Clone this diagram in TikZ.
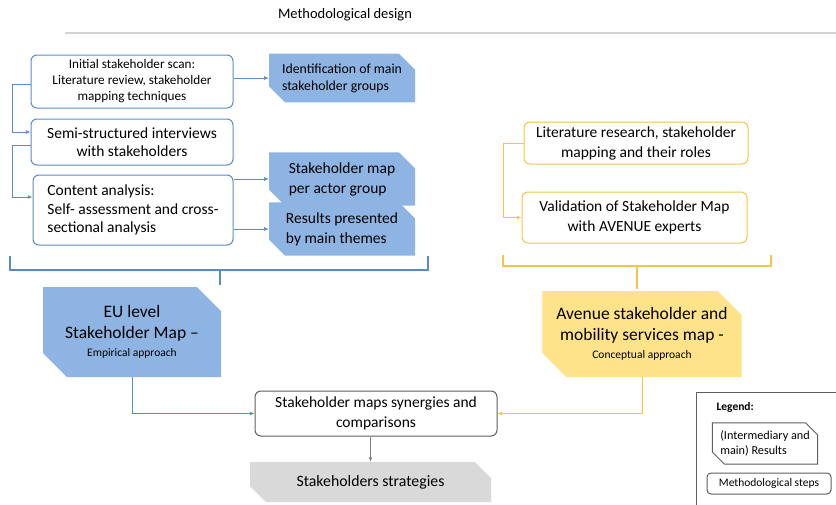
\documentclass[tikz,border=0pt]{standalone}
\usepackage{fontspec}
\setmainfont{Carlito}
\usetikzlibrary{positioning,shapes.misc,arrows.meta,calc}
\usepackage{xcolor}
\definecolor{mapblue}{RGB}{142,180,227}
\definecolor{lineblue}{RGB}{91,138,201}
\definecolor{mapyellow}{RGB}{255,227,138}
\definecolor{lineyellow}{RGB}{245,196,72}
\definecolor{stratgray}{RGB}{217,217,217}
\definecolor{framegray}{RGB}{95,95,95}

\begin{document}
\begin{tikzpicture}[x=1pt, y=-1pt,
    method/.style={rectangle, draw=lineblue, fill=white, line width=1pt,
      rounded corners=6pt, align=center, inner sep=2pt,
      font=\fontsize{15.5}{17.5}\selectfont},
    result/.style={chamfered rectangle,
      chamfered rectangle corners={north east,south west},
      chamfered rectangle xsep=8pt, chamfered rectangle ysep=8pt,
      fill=mapblue, draw=none, align=left, inner sep=2pt,
      font=\fontsize{15.5}{20}\selectfont},
    yellowstep/.style={method, draw=lineyellow},
    bigmap/.style={chamfered rectangle,
      chamfered rectangle corners={north east,south west},
      chamfered rectangle xsep=12pt, chamfered rectangle ysep=12pt,
      draw=none, align=center, inner sep=2pt,
      font=\fontsize{17.5}{21}\selectfont},
    bluearrow/.style={-{Latex[length=1.6mm,width=1.3mm]}, draw=lineblue, line width=0.7pt},
    yellowarrow/.style={bluearrow, draw=lineyellow},
    grayarrow/.style={bluearrow, draw=gray},
    bluebracket/.style={draw=lineblue, line width=2pt},
    yellowbracket/.style={draw=lineyellow, line width=2pt}
  ]
    \useasboundingbox (0,0) rectangle (836,504);

    % title
    \node[font=\fontsize{14.5}{17}\selectfont] (title) at (345,15) {Methodological design};
    \draw[gray!35, line width=1.5pt] (65,33) -- (836,33);

    % empirical branch
    \node[method, minimum width=202pt, minimum height=53pt,
          font=\fontsize{13.2}{16}\selectfont] (scan) at (132,81.5)
          {Initial stakeholder scan:\\Literature review, stakeholder\\mapping techniques};
    \node[method, minimum width=202pt, minimum height=46pt] (interviews) at (132,142)
          {Semi-structured interviews\\with stakeholders};
    \node[method, minimum width=200pt, minimum height=70pt, align=left,
          font=\fontsize{15.5}{18.5}\selectfont] (content) at (133,210)
          {Content analysis:\\Self- assessment and cross-\\sectional analysis};

    \node[result, minimum width=146pt, minimum height=40pt,
          font=\fontsize{13.8}{17}\selectfont] (groups) at (342,78)
          {Identification of main\\stakeholder groups};
    \node[result, minimum width=146pt, minimum height=42pt] (actormap) at (342,179)
          {Stakeholder map\\per actor group};
    \node[result, minimum width=146pt, minimum height=52pt] (themes) at (342,229)
          {Results presented\\by main themes};

    \node[bigmap, fill=mapblue, minimum width=178pt, minimum height=90pt] (eumap) at (132,332)
          {EU level\\Stakeholder Map –\\[-3pt]{\fontsize{11.5}{13}\selectfont Empirical approach}};

    % conceptual branch
    \node[yellowstep, minimum width=224pt, minimum height=42pt,
          font=\fontsize{15.5}{20}\selectfont] (litresearch) at (636,143)
          {Literature research, stakeholder\\mapping and their roles};
    \node[yellowstep, minimum width=225pt, minimum height=51pt,
          font=\fontsize{15.5}{20}\selectfont] (validation) at (634.5,217.5)
          {Validation of Stakeholder Map\\with AVENUE experts};

    \node[bigmap, fill=mapyellow, minimum width=192pt, minimum height=86pt] (avenuemap) at (642,334)
          {Avenue stakeholder and\\mobility services map -\\[-3pt]{\fontsize{11.5}{13}\selectfont Conceptual approach}};

    % joint steps
    \node[method, draw=framegray, minimum width=242pt, minimum height=45pt,
          font=\fontsize{15.5}{20}\selectfont] (synergies) at (376,413.5)
          {Stakeholder maps synergies and\\comparisons};
    \node[bigmap, fill=stratgray, chamfered rectangle xsep=8pt, chamfered rectangle ysep=8pt,
          minimum width=241pt, minimum height=40pt,
          font=\fontsize{15.8}{18}\selectfont] (strategies) at (370.5,482)
          {Stakeholders strategies};

    % legend
    \node[draw=framegray, line width=1pt, minimum width=146pt, minimum height=118pt,
          anchor=north west, inner sep=0pt] (legend) at (696,392) {};
    \node[anchor=west, font=\fontsize{11.5}{13}\selectfont\bfseries] (legendtitle) at (713,407) {Legend:};
    \node[result, fill=white, draw=framegray, line width=1pt, chamfered rectangle xsep=6pt,
          chamfered rectangle ysep=6pt, minimum width=104pt, minimum height=37pt,
          font=\fontsize{12.2}{14.5}\selectfont] (legresult) at (765,443.5)
          {(Intermediary and\\main) Results};
    \node[method, draw=framegray, rounded corners=4pt, minimum width=124pt, minimum height=21pt,
          font=\fontsize{11.5}{13}\selectfont] (legmethod) at (769,483.5)
          {Methodological steps};

    % connectors
    \coordinate (bluespine) at (12,0);
    \coordinate (yellowspine) at (503,0);
    \draw[bluearrow] ([yshift=-3pt]scan.west) -- ([yshift=-3pt]scan.west -| bluespine)
          |- ([yshift=10pt]interviews.west);
    \draw[bluearrow] ([yshift=-3pt]interviews.west) -- ([yshift=-3pt]interviews.west -| bluespine)
          |- ([yshift=13pt]content.west);
    \draw[bluearrow] (groups.west -| scan.east) -- (groups.west);
    \draw[bluearrow] (actormap.west -| content.east) -- (actormap.west);
    \draw[bluearrow] (themes.west -| content.east) -- (themes.west);
    \draw[yellowarrow] (litresearch.west) -- (litresearch.west -| yellowspine)
          |- (validation.west);

    % brackets
    \coordinate (bluebrace) at (220,270);
    \coordinate (yellowbrace) at (637,266);
    \draw[bluebracket] (10,256) -- (10,270) -- (428,270) -- (428,256);
    \draw[bluebracket] (bluebrace) -- ([yshift=2pt]bluebrace |- eumap.north);
    \draw[yellowbracket] (503,255) -- (503,266) -- (771,266) -- (771,255);
    \draw[yellowbracket] (yellowbrace) -- ([yshift=2pt]yellowbrace |- avenuemap.north);

    \draw[bluearrow] (eumap.south) |- (synergies.west);
    \draw[yellowarrow] (avenuemap.south) |- (synergies.east);
    \draw[grayarrow] (synergies.south -| strategies.north) -- (strategies.north);
  \end{tikzpicture}
\end{document}
